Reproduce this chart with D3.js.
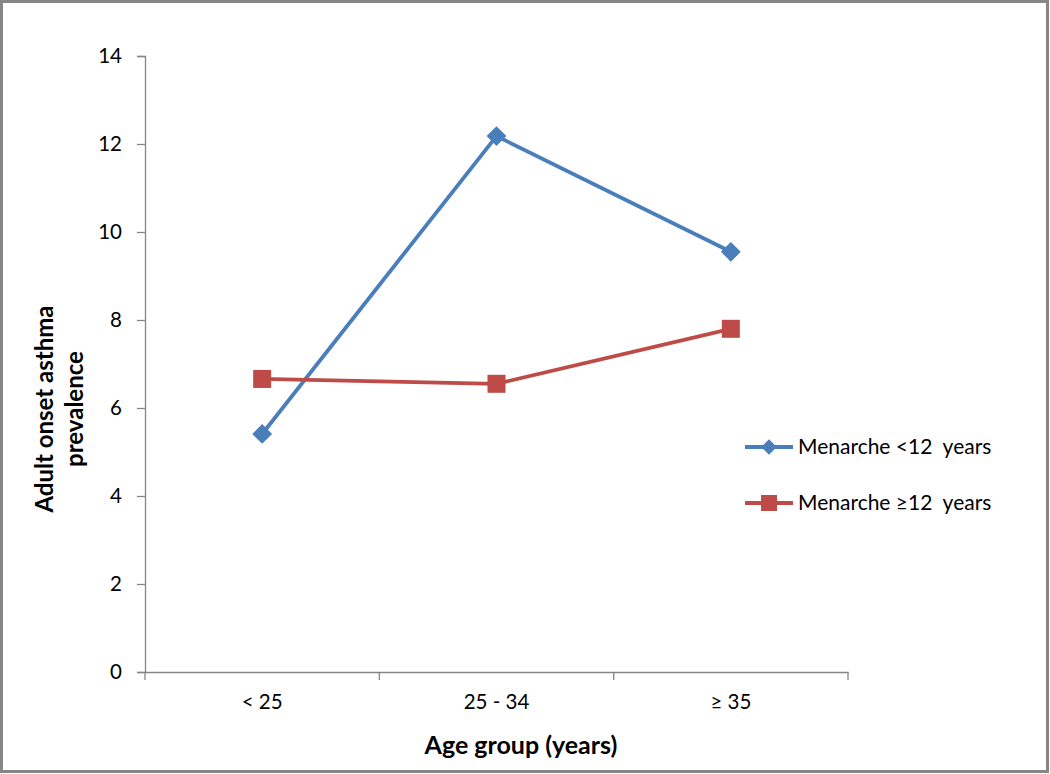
<!DOCTYPE html>
<html><head><meta charset="utf-8">
<script src="https://cdn.jsdelivr.net/npm/d3@7"></script>
<style>body{margin:0;background:#fff}svg{display:block}</style>
</head><body>
<svg id="c" width="1050" height="774"></svg>
<script>
const categories = ["< 25", "25 - 34", "\u2265 35"];
const seriesNames = ["Menarche <12  years", "Menarche \u226512  years"];
const early = [5.41, 12.18, 9.55];
const late = [6.66, 6.55, 7.8];
const yTicks = [0, 2, 4, 6, 8, 10, 12, 14];
const colors = ["#4a7ebb", "#be4b48"];

(function(){
const svg = d3.select("#c");
const font = "Lato, 'Open Sans', sans-serif";
svg.append("rect").attr("x",1.5).attr("y",1.5).attr("width",1046).attr("height",770)
  .attr("fill","#fff").attr("stroke","#868686").attr("stroke-width",3);

const pLeft=145, pRight=848, pTop=56, pBottom=672;
const x = d3.scaleBand().domain(categories).range([pLeft,pRight]);
const y = d3.scaleLinear().domain([0,14]).range([pBottom,pTop]);

// y axis
const ya = svg.append("g").attr("transform",`translate(${pLeft},0)`)
  .call(d3.axisLeft(y).tickValues(yTicks).tickSize(8).tickPadding(15).tickFormat(d3.format("d")));
ya.select(".domain").attr("stroke","#868686").attr("stroke-width",1.3);
ya.selectAll(".tick line").attr("stroke","#868686").attr("stroke-width",1.3);
ya.selectAll("text").attr("font-family",font).attr("font-size",20.5).attr("fill","#000");

// x axis
const xa = svg.append("g").attr("transform",`translate(0,${pBottom})`)
  .call(d3.axisBottom(x).tickSize(0).tickPadding(22));
xa.select(".domain").attr("stroke","#868686").attr("stroke-width",1.3);
xa.selectAll("text").attr("font-family",font).attr("font-size",20.5).attr("fill","#000");
const bounds = categories.map(c=>x(c)).concat([pRight]);
xa.selectAll(".sep").data(bounds).enter().append("line").attr("class","sep")
  .attr("x1",d=>d).attr("x2",d=>d).attr("y1",0).attr("y2",8)
  .attr("stroke","#868686").attr("stroke-width",1.3);

const cx = c => x(c) + x.bandwidth()/2;
const line = d3.line().x((d,i)=>cx(categories[i])).y(d=>y(d));
[early, late].forEach((s,k)=>{
  svg.append("path").datum(s).attr("d",line).attr("fill","none")
    .attr("stroke",colors[k]).attr("stroke-width",3.8);
});
// markers
svg.selectAll(".dia").data(early).enter().append("rect").attr("class","dia")
  .attr("x",-7).attr("y",-7).attr("width",14).attr("height",14)
  .attr("transform",(d,i)=>`translate(${cx(categories[i])},${y(d)}) rotate(45)`)
  .attr("fill",colors[0]);
svg.selectAll(".sq").data(late).enter().append("rect").attr("class","sq")
  .attr("x",(d,i)=>cx(categories[i])-9).attr("y",d=>y(d)-9).attr("width",18).attr("height",18)
  .attr("fill",colors[1]);

// legend
const ly = [447, 503];
seriesNames.forEach((n,k)=>{
  const g = svg.append("g");
  g.append("line").attr("x1",745).attr("x2",793).attr("y1",ly[k]).attr("y2",ly[k])
    .attr("stroke",colors[k]).attr("stroke-width",3.8);
  if(k===0){
    g.append("rect").attr("x",-5.5).attr("y",-5.5).attr("width",11).attr("height",11)
     .attr("transform",`translate(769,${ly[k]}) rotate(45)`).attr("fill",colors[0]);
  } else {
    g.append("rect").attr("x",761).attr("y",ly[k]-8).attr("width",16).attr("height",16).attr("fill",colors[1]);
  }
  g.append("text").attr("x",798).attr("y",ly[k]).attr("dy","0.35em")
    .attr("font-family",font).attr("font-size",21).attr("fill","#000")
    .style("white-space","pre").text(n);
});

// axis titles
const yt = svg.append("text")
  .attr("font-family",font).attr("font-size",24).attr("font-weight","bold").attr("text-anchor","middle");
yt.append("tspan").attr("x",0).attr("y",0).text("Adult onset asthma");
yt.append("tspan").attr("x",0).attr("y",30).text("prevalence");
yt.attr("transform","translate(53,409) rotate(-90)");
svg.append("text").attr("x",521).attr("y",754)
  .attr("font-family",font).attr("font-size",25).attr("font-weight","bold").attr("text-anchor","middle")
  .text("Age group (years)");
})();
</script>
</body></html>
